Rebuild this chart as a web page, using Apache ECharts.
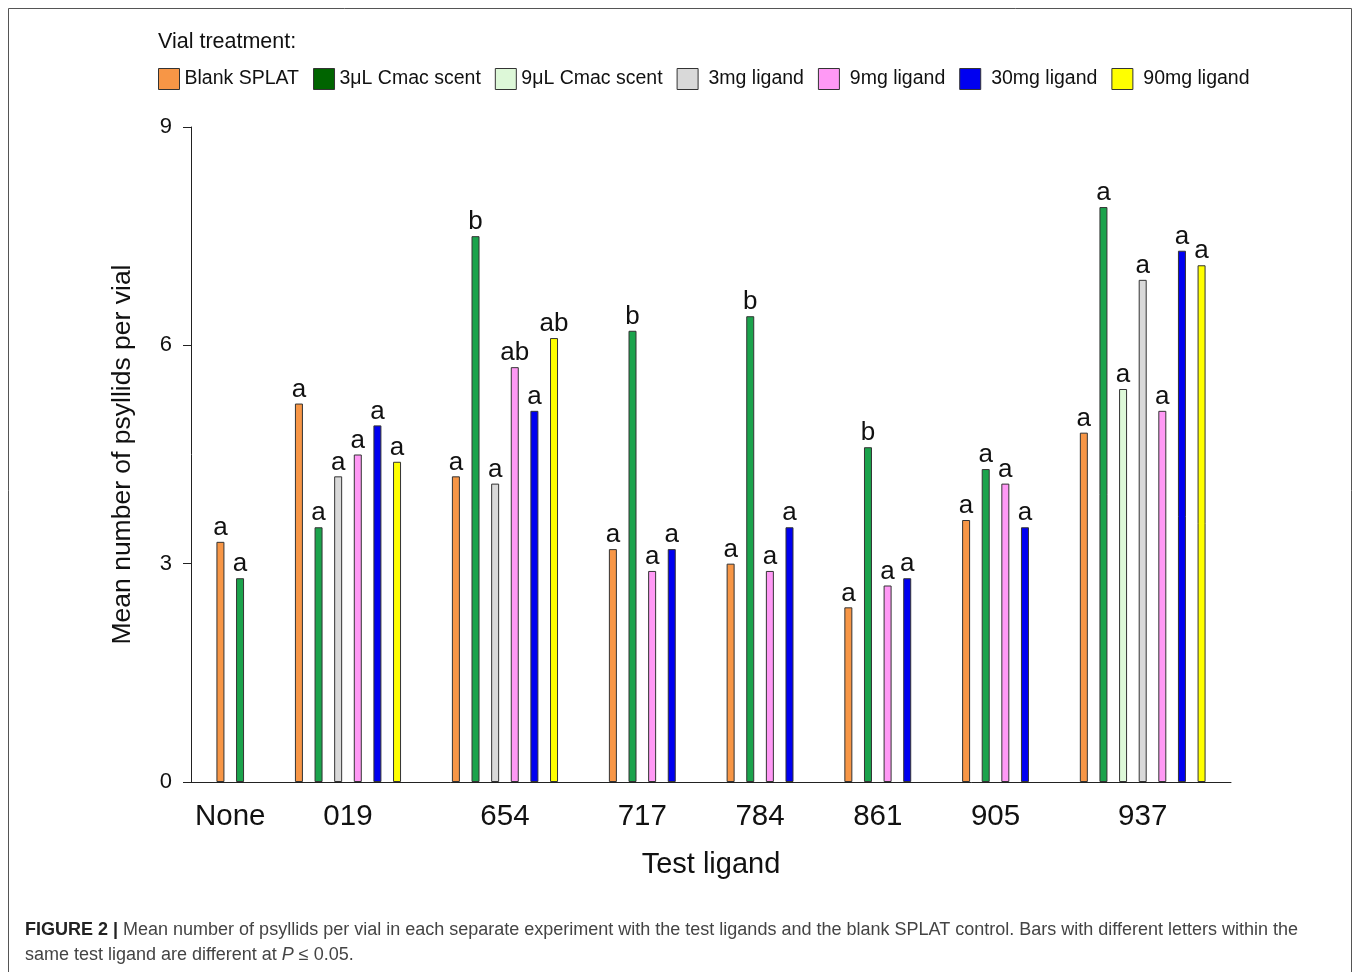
<!DOCTYPE html>
<html>
<head>
<meta charset="utf-8">
<script src="https://cdn.jsdelivr.net/npm/echarts@6/dist/echarts.min.js"></script>
<style>
  html, body { margin: 0; padding: 0; background: #fff; }
  #fig_psyllids { width: 1360px; height: 972px; }
</style>
</head>
<body>
<div id="fig_psyllids"></div>
<script>
// test ligands (x groups)
var groups = ['None', '019', '654', '717', '784', '861', '905', '937'];

// treatments (legend)
var treatments = ['Blank SPLAT', '3\u03bcL Cmac scent', '9\u03bcL Cmac scent', '3mg ligand', '9mg ligand', '30mg ligand', '90mg ligand'];

// mean psyllids per vial, one value per group (null = not tested)
var blank_splat = [3.3, 5.2, 4.2, 3.2, 3.0, 2.4, 3.6, 4.8];
var cmac_3ul    = [2.8, 3.5, 7.5, 6.2, 6.4, 4.6, 4.3, 7.9];
var cmac_9ul    = [null, null, null, null, null, null, null, 5.4];
var ligand_3mg  = [null, 4.2, 4.1, null, null, null, null, 6.9];
var ligand_9mg  = [null, 4.5, 5.7, 2.9, 2.9, 2.7, 4.1, 5.1];
var ligand_30mg = [null, 4.9, 5.1, 3.2, 3.5, 2.8, 3.5, 7.3];
var ligand_90mg = [null, 4.4, 6.1, null, null, null, null, 7.1];

// significance letters
var blank_splat_l = ['a', 'a', 'a', 'a', 'a', 'a', 'a', 'a'];
var cmac_3ul_l    = ['a', 'a', 'b', 'b', 'b', 'b', 'a', 'a'];
var cmac_9ul_l    = [null, null, null, null, null, null, null, 'a'];
var ligand_3mg_l  = [null, 'a', 'a', null, null, null, null, 'a'];
var ligand_9mg_l  = [null, 'a', 'ab', 'a', 'a', 'a', 'a', 'a'];
var ligand_30mg_l = [null, 'a', 'a', 'a', 'a', 'a', 'a', 'a'];
var ligand_90mg_l = [null, 'a', 'ab', null, null, null, null, 'a'];

// y axis
var y_min = 0, y_max = 9, y_step = 3;

var values = [blank_splat, cmac_3ul, cmac_9ul, ligand_3mg, ligand_9mg, ligand_30mg, ligand_90mg];
var letters = [blank_splat_l, cmac_3ul_l, cmac_9ul_l, ligand_3mg_l, ligand_9mg_l, ligand_30mg_l, ligand_90mg_l];
var colors = ['#F79646', '#1BA34C', '#DDF8D8', '#D9D9D9', '#FF99F5', '#0000F0', '#FFFF00'];
var legend_colors = ['#F79646', '#006400', '#DDF8D8', '#D9D9D9', '#FF99F5', '#0000F0', '#FFFF00'];

var fig = {
    plot_id: 'fig_psyllids',
    plot_chart: null,
    slots: [],        // one category per bar position
    slot_bar: [],     // which [treatment, group] sits in each slot
    centers: {},      // group label position on the label axis

    build_slots: function() {
        var gap = 2;
        this.slots = [''];
        this.slot_bar = [null];
        for (var g = 0; g < groups.length; g++) {
            if (g > 0) {
                for (var k = 0; k < gap; k++) {
                    this.slots.push('');
                    this.slot_bar.push(null);
                }
            }
            var first = this.slots.length;
            for (var t = 0; t < treatments.length; t++) {
                if (values[t][g] != null) {
                    this.slots.push('');
                    this.slot_bar.push([t, g]);
                }
            }
            var last = this.slots.length - 1;
            // centre of the group, in slot-edge units
            this.centers[((first + last + 1) / 2).toFixed(2)] = groups[g];
        }
        this.slots.push('');
        this.slot_bar.push(null);
    },

    make_series: function() {
        var series = [];
        for (var t = 0; t < treatments.length; t++) {
            var data = this.slot_bar.map(function(b) {
                if (b != null && b[0] == t) {
                    return { value: values[t][b[1]], letter: letters[t][b[1]] };
                }
                return '-';
            });
            series.push({
                name: treatments[t],
                type: 'bar',
                stack: 'all',
                barWidth: 8,
                data: data,
                itemStyle: {
                    color: colors[t],
                    borderColor: '#333',
                    borderWidth: 1
                },
                label: {
                    show: true,
                    position: 'top',
                    distance: 1,
                    fontFamily: 'Liberation Sans',
                    fontSize: 26,
                    color: '#111',
                    formatter: function(p) {
                        return p.data && p.data.letter ? p.data.letter : '';
                    }
                }
            });
        }
        return series;
    },

    init: function() {
        this.build_slots();
        var n = this.slots.length;
        var centers = this.centers;

        this.option = {
            animation: false,
            backgroundColor: '#fff',
            textStyle: { fontFamily: 'Liberation Sans' },
            title: {
                text: 'Vial treatment:',
                left: 153,
                top: 26,
                textStyle: { fontSize: 21.5, fontWeight: 'normal', color: '#111' }
            },
            legend: {
                data: treatments.map(function(name, i) {
                    return { name: name, itemStyle: { color: legend_colors[i], borderColor: '#333', borderWidth: 1 } };
                }),
                left: 153,
                top: 63,
                itemWidth: 21,
                itemHeight: 21,
                itemGap: 14,
                icon: 'rect',
                formatter: function(name) {
                    return name.indexOf('mg') > 0 ? ' ' + name : name;
                },
                textStyle: { fontSize: 19.5, color: '#111' }
            },
            grid: {
                left: 191,
                top: 127,
                width: 1040,
                bottom: 190
            },
            xAxis: [{
                type: 'category',
                data: this.slots,
                axisLine: { lineStyle: { color: '#222' } },
                axisTick: { show: false },
                axisLabel: { show: false },
                name: 'Test ligand',
                nameLocation: 'middle',
                nameGap: 68,
                nameTextStyle: { fontSize: 29, color: '#111' }
            }, {
                type: 'value',
                position: 'bottom',
                min: 0,
                max: n,
                interval: 0.5,
                axisLine: { show: false },
                axisTick: { show: false },
                splitLine: { show: false },
                axisLabel: {
                    margin: 20,
                    fontSize: 29.5,
                    color: '#111',
                    showMinLabel: true,
                    showMaxLabel: true,
                    formatter: function(v) {
                        var k = v.toFixed(2);
                        return centers[k] ? centers[k] : '';
                    }
                }
            }],
            yAxis: {
                type: 'value',
                min: y_min,
                max: y_max,
                interval: y_step,
                axisLine: { show: true, lineStyle: { color: '#222' } },
                axisTick: { show: true, length: 8, lineStyle: { color: '#222' } },
                splitLine: { show: false },
                axisLabel: { fontSize: 22, color: '#111', margin: 19 },
                name: 'Mean number of psyllids per vial',
                nameLocation: 'middle',
                nameGap: 55,
                nameTextStyle: { fontSize: 26.5, color: '#111' }
            },
            series: this.make_series(),
            graphic: [{
                type: 'rect',
                shape: { x: 8.5, y: 8.5, width: 1343, height: 1000 },
                style: { fill: null, stroke: '#555', lineWidth: 1 },
                silent: true
            }, {
                type: 'text',
                left: 25,
                top: 921,
                style: {
                    text: '{b|FIGURE 2 |} Mean number of psyllids per vial in each separate experiment with the test ligands and the blank SPLAT control. Bars with different letters within the',
                    fontFamily: 'Liberation Sans',
                    fontSize: 18,
                    fill: '#444',
                    rich: { b: { fontWeight: 'bold', fontSize: 18, fill: '#222' } }
                }
            }, {
                type: 'text',
                left: 25,
                top: 946,
                style: {
                    text: 'same test ligand are different at {i|P} \u2264 0.05.',
                    fontFamily: 'Liberation Sans',
                    fontSize: 18,
                    fill: '#444',
                    rich: { i: { fontStyle: 'italic', fontSize: 18, fill: '#444' } }
                }
            }]
        };

        this.plot_chart = echarts.init(document.getElementById(this.plot_id));
        this.plot_chart.setOption(this.option);
    }
};

fig.init();
</script>
</body>
</html>
